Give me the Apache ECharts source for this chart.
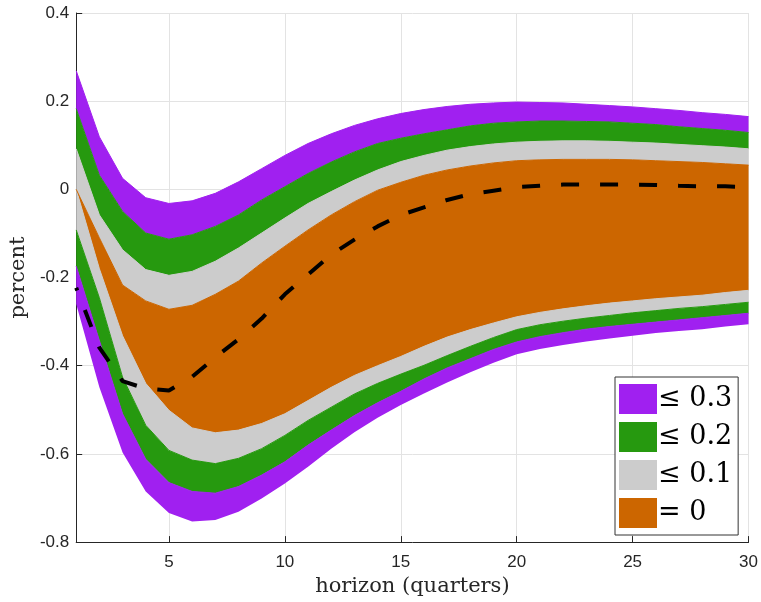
<!DOCTYPE html>
<html><head><meta charset="utf-8">
<script src="https://cdn.jsdelivr.net/npm/echarts@6/dist/echarts.min.js"></script>
<style>html,body{margin:0;padding:0;background:#fff}#c{width:761px;height:602px}</style>
</head><body><div id="c"></div>
<script>
const horizon = [1,2,3,4,5,6,7,8,9,10,11,12,13,14,15,16,17,18,19,20,21,22,23,24,25,26,27,28,29,30];
const purpleUpper = [0.269,0.119,0.025,-0.019,-0.032,-0.026,-0.009,0.017,0.047,0.077,0.104,0.126,0.145,0.160,0.172,0.181,0.188,0.193,0.196,0.198,0.197,0.196,0.193,0.190,0.187,0.183,0.179,0.174,0.170,0.165];
const greenUpper = [0.183,0.032,-0.050,-0.099,-0.113,-0.103,-0.084,-0.058,-0.024,0.006,0.036,0.062,0.085,0.104,0.116,0.126,0.135,0.144,0.150,0.153,0.155,0.155,0.154,0.153,0.150,0.147,0.142,0.138,0.134,0.129];
const greyUpper = [0.092,-0.058,-0.137,-0.182,-0.195,-0.186,-0.163,-0.133,-0.099,-0.065,-0.032,-0.005,0.021,0.044,0.063,0.077,0.089,0.097,0.103,0.107,0.109,0.110,0.110,0.109,0.107,0.105,0.102,0.099,0.096,0.092];
const orangeUpper = [0.0,-0.110,-0.217,-0.253,-0.272,-0.263,-0.238,-0.208,-0.167,-0.129,-0.092,-0.058,-0.028,-0.002,0.016,0.032,0.044,0.053,0.060,0.065,0.067,0.068,0.068,0.068,0.067,0.065,0.063,0.061,0.058,0.055];
const orangeLower = [0.0,-0.180,-0.332,-0.440,-0.501,-0.541,-0.552,-0.546,-0.531,-0.509,-0.479,-0.449,-0.422,-0.400,-0.379,-0.356,-0.335,-0.318,-0.303,-0.289,-0.279,-0.271,-0.264,-0.258,-0.253,-0.248,-0.244,-0.240,-0.234,-0.229];
const greyLower = [-0.092,-0.246,-0.426,-0.535,-0.592,-0.614,-0.622,-0.610,-0.588,-0.558,-0.524,-0.494,-0.464,-0.440,-0.419,-0.399,-0.377,-0.356,-0.336,-0.318,-0.307,-0.299,-0.292,-0.286,-0.280,-0.275,-0.270,-0.266,-0.261,-0.256];
const greenLower = [-0.174,-0.343,-0.509,-0.612,-0.665,-0.685,-0.689,-0.674,-0.648,-0.618,-0.580,-0.546,-0.513,-0.484,-0.458,-0.430,-0.405,-0.384,-0.363,-0.346,-0.334,-0.325,-0.317,-0.311,-0.306,-0.301,-0.296,-0.291,-0.286,-0.281];
const purpleLower = [-0.260,-0.449,-0.597,-0.685,-0.734,-0.753,-0.750,-0.731,-0.701,-0.667,-0.629,-0.588,-0.551,-0.518,-0.489,-0.463,-0.438,-0.415,-0.393,-0.374,-0.362,-0.353,-0.345,-0.338,-0.332,-0.326,-0.321,-0.317,-0.311,-0.306];
const median = [-0.223,-0.359,-0.435,-0.452,-0.456,-0.425,-0.381,-0.340,-0.293,-0.238,-0.193,-0.148,-0.114,-0.084,-0.058,-0.041,-0.024,-0.011,-0.003,0.005,0.008,0.011,0.011,0.011,0.011,0.010,0.008,0.007,0.007,0.005];
const xTicks = [5,10,15,20,25,30];
const legendNames = ['≤ 0.3','≤ 0.2','≤ 0.1','= 0'];
const colors = {'≤ 0.3':'#A020F0','≤ 0.2':'#26990F','≤ 0.1':'#CCCCCC','= 0':'#CC6600'};

function diff(a, b) { return horizon.map((x, i) => +(a[i] - b[i]).toFixed(6)); }
function band(name, a, b) {
  const c = colors[name];
  return {
    name: name, type: 'line', stack: 'bands', stackStrategy: 'all',
    data: diff(a, b), symbol: 'none', showSymbol: false, silent: true,
    color: c, itemStyle: {color: c}, lineStyle: {width: 1, color: c},
    areaStyle: {color: c, opacity: 1}, z: 2
  };
}
const series = [
  {name: 'base', type: 'line', stack: 'bands', stackStrategy: 'all',
   data: purpleLower.slice(), symbol: 'none', showSymbol: false,
   lineStyle: {width: 0, opacity: 0}, silent: true, z: 1},
  band('≤ 0.3', greenLower, purpleLower),
  band('≤ 0.2', greyLower, greenLower),
  band('≤ 0.1', orangeLower, greyLower),
  band('= 0', orangeUpper, orangeLower),
  band('≤ 0.1', greyUpper, orangeUpper),
  band('≤ 0.2', greenUpper, greyUpper),
  band('≤ 0.3', purpleUpper, greenUpper),
  {name: 'median', type: 'line', data: median.slice(),
   symbol: 'none', showSymbol: false, silent: true, z: 5,
   lineStyle: {color: '#000', width: 4, type: [18, 21], dashOffset: 15, cap: 'butt'}}
];
const isTick = (idx, val) => xTicks.indexOf(Number(val)) >= 0;

const chart = echarts.init(document.getElementById('c'), null, {renderer: 'canvas'});
chart.setOption({
  animation: false,
  backgroundColor: '#fff',
  grid: {left: 75, right: 8, top: 13, bottom: 56, containLabel: false},
  xAxis: {
    type: 'category', data: horizon.map(String), boundaryGap: false,
    name: 'horizon (quarters)', nameLocation: 'middle', nameGap: 27,
    nameTextStyle: {fontFamily: 'DejaVu Serif', fontSize: 21, color: '#262626'},
    axisLine: {onZero: false, lineStyle: {color: '#262626', width: 1}},
    axisTick: {inside: true, length: 6, interval: isTick, lineStyle: {color: '#262626'}},
    axisLabel: {interval: isTick, fontFamily: 'Liberation Sans', fontSize: 17, color: '#262626', margin: 12},
    splitLine: {show: true, interval: isTick, lineStyle: {color: '#e3e3e3', width: 1}}
  },
  yAxis: {
    type: 'value', min: -0.8, max: 0.4, interval: 0.2,
    name: 'percent', nameLocation: 'middle', nameGap: 37,
    nameTextStyle: {fontFamily: 'DejaVu Serif', fontSize: 21, color: '#262626'},
    axisLine: {show: true, onZero: false, lineStyle: {color: '#262626', width: 1}},
    axisTick: {show: true, inside: true, length: 6, lineStyle: {color: '#262626'}},
    axisLabel: {fontFamily: 'Liberation Sans', fontSize: 17, color: '#262626', margin: 7},
    splitLine: {show: true, lineStyle: {color: '#e3e3e3', width: 1}}
  },
  legend: {
    data: legendNames.map(n => ({name: n, icon: 'rect', itemStyle: {color: colors[n], borderWidth: 0}})),
    orient: 'vertical', left: 615, top: 377,
    itemWidth: 38, itemHeight: 30, itemGap: 8,
    padding: [7, 6, 7, 4],
    backgroundColor: '#fff', borderColor: '#333', borderWidth: 1, borderRadius: 0,
    textStyle: {fontFamily: 'DejaVu Serif', fontSize: 27, color: '#000', padding: [0, 0, 0, -4]},
    selectedMode: false
  },
  series: series
});
</script>
</body></html>
